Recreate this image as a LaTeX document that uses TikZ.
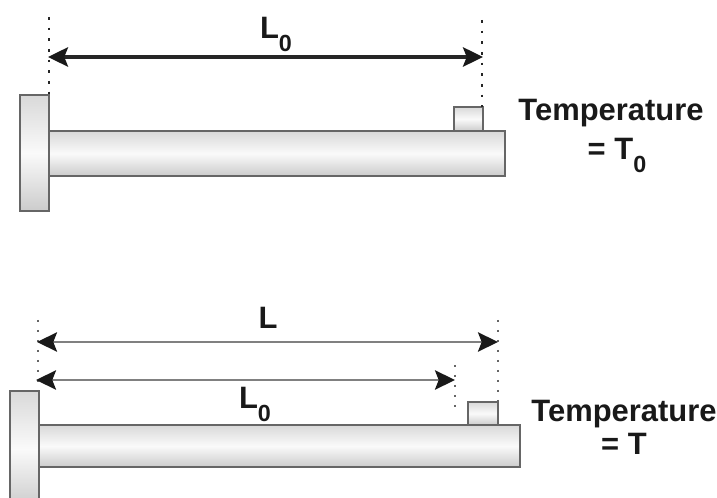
\documentclass[tikz,border=0pt]{standalone}
\usepackage{fontspec}
\setmainfont{Liberation Sans}
\usetikzlibrary{arrows.meta}

\newcommand{\lowzero}{\raisebox{-0.42em}{\fontsize{17.5}{18}\selectfont 0}}

\tikzset{
	metal/.style={draw=black!60, line width=0.8pt, top color=black!15, bottom color=black!20, middle color=black!2},
	dimthick/.style={<->, line width=2.5pt, black!85},
	dimthin/.style={<->, line width=1.8pt, black!50},
	guidethick/.style={line width=2pt, black!85, dash pattern=on 2pt off 6pt},
	guidethin/.style={line width=1.4pt, black!60, dash pattern=on 1.4pt off 6.1pt},
	every node/.style={font=\fontsize{23.2}{28}\selectfont\bfseries, inner sep=0pt, text=black!90}
}

\begin{document}
\begin{tikzpicture}[x=0.75pt, y=-0.75pt, >={Stealth[length=15pt,width=14.5pt,inset=2.8pt,black!90]}]
	\useasboundingbox (0,0) rectangle (717,498);
	\clip (0,0) rectangle (717,498);

	% first bar, at the starting temperature
	\draw [metal] (49,131) rectangle (505,176);
	\draw [metal] (20,95) rectangle (49,211);
	\draw [metal] (454,107) rectangle (483,131);
	\coordinate (topleftup) at (49,17);
	\coordinate (topleftdown) at (49,95);
	\coordinate (toprightup) at (482,20);
	\coordinate (toprightdown) at (482,107);
	\coordinate (topstart) at (48,57);
	\coordinate (topend) at (483,57);
	\draw [guidethick] (topleftup) -- (topleftdown);
	\draw [guidethick] (toprightup) -- (toprightdown);
	\draw [dimthick] (topstart) -- (topend);
	\node (toplength) at (276,34) {L\lowzero};
	\node (toptemp) [align=center, anchor=north] at (611,99) {Temperature\\[1pt]\hspace{9pt}= T\lowzero};

	% second bar, after the expansion
	\draw [metal] (39,425) rectangle (520,467);
	\draw [metal] (10,391) rectangle (39,507);
	\draw [metal] (468,402) rectangle (498,425);
	\coordinate (lowleftup) at (38,320);
	\coordinate (lowleftdown) at (38,391);
	\coordinate (lowrightup) at (498,320);
	\coordinate (lowrightdown) at (498,402);
	\coordinate (midrightup) at (455,365);
	\coordinate (midrightdown) at (455,408);
	\coordinate (lowstart) at (37,342);
	\coordinate (lowend) at (498,342);
	\coordinate (midstart) at (36,380);
	\coordinate (midend) at (455,380);
	\draw [guidethin] (lowleftup) -- (lowleftdown);
	\draw [guidethin] (lowrightup) -- (lowrightdown);
	\draw [guidethin] (midrightup) -- (midrightdown);
	\draw [dimthin] (lowstart) -- (lowend);
	\draw [dimthin] (midstart) -- (midend);
	\node (lowlength) at (268,318) {L};
	\node (midlength) at (255,404) {L\lowzero};
	\node (lowtemp) [align=center, anchor=north] at (624,400) {Temperature\\[-3pt]= T};
\end{tikzpicture}
\end{document}
